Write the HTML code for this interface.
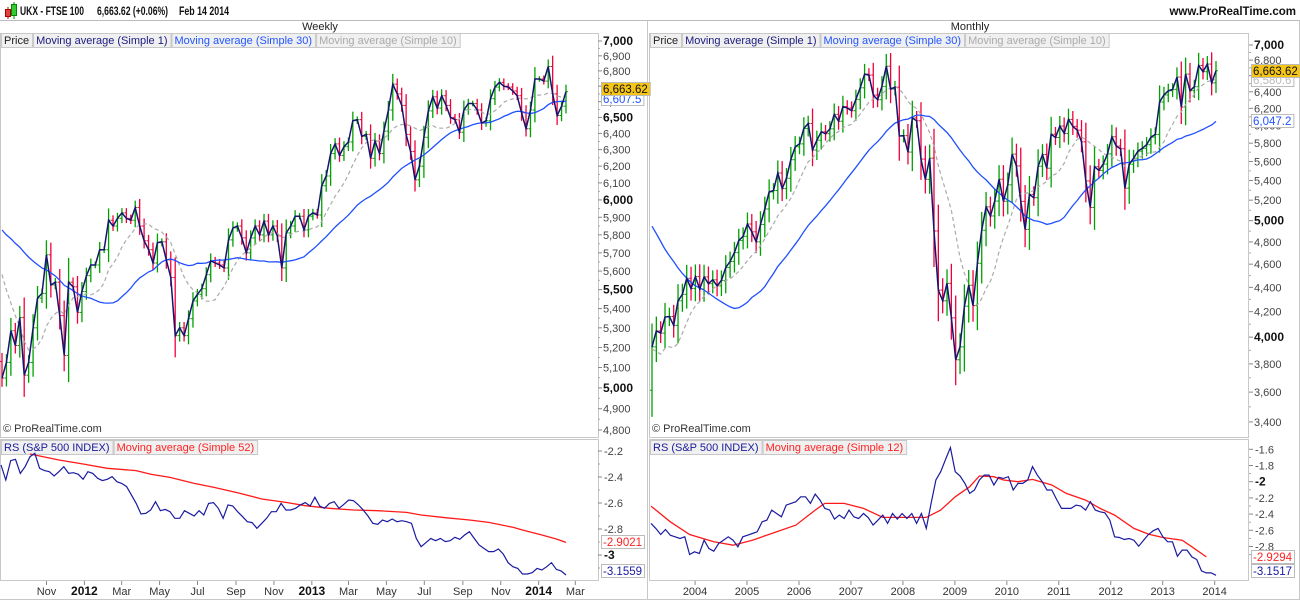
<!DOCTYPE html>
<html><head><meta charset="utf-8"><style>
body{margin:0;background:#fff;width:1300px;height:600px;overflow:hidden;font-family:"Liberation Sans",Arial,sans-serif}
svg{position:absolute;left:0;top:0}
text{font-family:"Liberation Sans",Arial,sans-serif}
</style></head><body>
<svg id="chart" width="1300" height="600" viewBox="0 0 1300 600"></svg>
<script>
// ---------- DATA ----------
const wkPrior=[5950,5920,5990,6000,5930,5900,5960,6020,6050,6010,5980,6060,6040,5990,5940,5940,5870,5880,5770,5810,5950,5990,5860,5900,5820,5570,5250,5290,5130];
const wkClose=[5048,5125,5285,5210,5353,5062,5125,5300,5455,5480,
5689,5525,5540,5363,5160,5540,5515,5380,5490,5575,
5633,5633,5717,5717,5883,5850,5894,5925,5894,5883,
5956,5850,5767,5717,5644,5756,5761,5661,5565,5260,
5300,5260,5347,5440,5475,5505,5580,5656,5644,5633,
5617,5772,5839,5850,5783,5700,5783,5850,5800,5878,
5800,5850,5794,5617,5811,5850,5906,5906,5828,5906,
5925,5913,6083,6141,6276,6335,6265,6318,6347,6479,
6486,6382,6394,6247,6353,6276,6414,6547,6713,6650,
6576,6394,6288,6118,6200,6376,6541,6631,6559,6638,
6576,6500,6486,6407,6547,6588,6588,6547,6464,6479,
6619,6694,6725,6700,6694,6669,6638,6529,6429,6547,
6747,6747,6733,6829,6650,6512,6571,6664];
const moPrior=[6438,6142,6222,6297,5918,5634,5967,5796,5643,5529,5345,4903,5040,5204,5217,5165,5102,5272,5165,5086,4656,4246,4227,3722,4039,4169,3940,3567,3656,3613];
const moClose=[3926,4048,4031,4157,4161,4091,4288,4342,4477,
4390,4492,4386,4489,4431,4464,4413,4459,4571,4624,4703,4814,
4852,4968,4894,4801,4964,5113,5282,5297,5478,5317,5423,5619,
5760,5792,5965,6023,5724,5833,5928,5906,5961,6129,6049,6221,
6203,6172,6308,6449,6621,6608,6360,6303,6467,6722,6433,6457,
5880,5884,5702,6087,6054,5626,5412,5636,4902,4377,4288,4434,
4150,3830,3926,4244,4418,4249,4608,4909,5134,5045,5191,5413,
5189,5355,5680,5553,5188,4917,5258,5225,5549,5675,5528,5900,
5863,5994,5909,6070,5990,5946,5815,5395,5128,5544,5505,5572,
5682,5872,5768,5738,5321,5571,5635,5711,5742,5783,5867,5898,
6276,6361,6412,6430,6583,6215,6621,6413,6462,6731,6651,6749,
6510,6664];
const wkRS=[-2.308,-2.423,-2.274,-2.264,-2.372,-2.321,-2.244,-2.218,-2.333,-2.351,
-2.359,-2.392,-2.359,-2.321,-2.372,-2.367,-2.379,-2.418,-2.359,-2.372,
-2.410,-2.428,-2.418,-2.397,-2.436,-2.449,-2.474,-2.538,-2.603,-2.685,
-2.679,-2.654,-2.590,-2.659,-2.649,-2.667,-2.718,-2.718,-2.659,-2.679,
-2.700,-2.659,-2.692,-2.603,-2.597,-2.641,-2.718,-2.615,-2.623,-2.667,
-2.705,-2.744,-2.751,-2.795,-2.756,-2.718,-2.667,-2.667,-2.603,-2.654,
-2.654,-2.641,-2.615,-2.597,-2.623,-2.556,-2.623,-2.641,-2.603,-2.590,
-2.641,-2.610,-2.577,-2.582,-2.615,-2.654,-2.700,-2.756,-2.764,-2.731,
-2.744,-2.723,-2.744,-2.736,-2.744,-2.756,-2.872,-2.936,-2.905,-2.872,
-2.890,-2.872,-2.897,-2.890,-2.864,-2.879,-2.846,-2.821,-2.872,-2.923,
-2.949,-2.974,-2.974,-2.954,-2.992,-3.059,-3.090,-3.103,-3.146,-3.146,
-3.136,-3.103,-3.115,-3.090,-3.059,-3.110,-3.123,-3.154];
const wkRSAvgIdx=[6,12,17,22,28,31,35,40,44,49,54,59,63,68,73,78,84,87,92,97,101,106,108,112,115,117];
const wkRSAvg=[-2.223,-2.269,-2.300,-2.333,-2.351,-2.379,-2.403,-2.449,-2.479,-2.521,-2.569,-2.595,-2.621,-2.641,-2.654,-2.659,-2.672,-2.692,-2.713,-2.731,-2.749,-2.787,-2.808,-2.846,-2.877,-2.903];
const moRS=[-2.515,-2.577,-2.652,-2.590,-2.660,-2.680,-2.701,-2.680,-2.899,-2.866,
-2.887,-2.722,-2.825,-2.858,-2.763,-2.722,-2.680,-2.722,-2.804,-2.680,
-2.660,-2.639,-2.619,-2.495,-2.474,-2.351,-2.392,-2.433,-2.289,-2.268,
-2.247,-2.186,-2.186,-2.268,-2.153,-2.227,-2.330,-2.351,-2.462,-2.412,
-2.454,-2.351,-2.433,-2.454,-2.392,-2.445,-2.536,-2.474,-2.412,-2.515,
-2.392,-2.462,-2.392,-2.454,-2.392,-2.515,-2.392,-2.577,-2.268,-1.979,
-1.876,-1.724,-1.579,-1.876,-1.930,-2.021,-2.144,-2.103,-1.979,-1.918,
-1.918,-2.041,-1.946,-1.959,-1.938,-2.103,-2.021,-2.021,-1.979,-1.814,
-1.918,-2.000,-2.103,-2.103,-2.219,-2.330,-2.330,-2.330,-2.289,-2.301,
-2.351,-2.247,-2.351,-2.371,-2.384,-2.474,-2.680,-2.689,-2.713,-2.701,
-2.722,-2.796,-2.722,-2.652,-2.606,-2.577,-2.680,-2.742,-2.742,-2.920,
-2.845,-2.845,-2.928,-2.961,-3.101,-3.126,-3.126,-3.155];
const moRSAvgIdx=[0,4,8,13,17,21,25,30,34,36,40,44,48,52,57,60,63,66,68,71,73,76,79,83,86,90,93,96,100,103,106,110,112,115];
const moRSAvg=[-2.301,-2.495,-2.652,-2.742,-2.784,-2.722,-2.639,-2.536,-2.351,-2.268,-2.268,-2.330,-2.441,-2.441,-2.441,-2.351,-2.186,-2.062,-1.930,-1.938,-1.979,-2.000,-1.971,-2.041,-2.144,-2.227,-2.330,-2.412,-2.577,-2.647,-2.689,-2.722,-2.804,-2.928];
const wkPriceTicks=[4800,4900,5000,5100,5200,5300,5400,5500,5600,5700,5800,5900,6000,6100,6200,6300,6400,6500,6600,6700,6800,6900,7000];
const wkBoldTicks=[5000,5500,6000,6500,7000];
const moPriceTicks=[3400,3600,3800,4000,4200,4400,4600,4800,5000,5200,5400,5600,5800,6000,6200,6400,6600,6800,7000];
const moBoldTicks=[4000,5000,7000];
const wkRSTicks=[-2.2,-2.4,-2.6,-2.8,-3];
const moRSTicks=[-1.6,-1.8,-2,-2.2,-2.4,-2.6,-2.8];
const wkDateLabels=["Nov","2012","Mar","May","Jul","Sep","Nov","2013","Mar","May","Jul","Sep","Nov","2014","Mar"];
const wkDateValues=["2011-11-01","2012-01-01","2012-03-01","2012-05-01","2012-07-01","2012-09-01","2012-11-01","2013-01-01","2013-03-01","2013-05-01","2013-07-01","2013-09-01","2013-11-01","2014-01-01","2014-03-01"];
const moYearLabels=["2004","2005","2006","2007","2008","2009","2010","2011","2012","2013","2014"];

// ---------- HELPERS ----------
const NS="http://www.w3.org/2000/svg";
const svg=document.getElementById('chart');
function el(tag,attrs,parent){const e=document.createElementNS(NS,tag);for(const k in attrs)e.setAttribute(k,attrs[k]);(parent||svg).appendChild(e);return e;}
function txt(x,y,s,opts,parent){const t=el('text',Object.assign({x:x,y:y,'font-size':11,fill:'#333'},opts||{}),parent);t.textContent=s;return t;}
function sma(all,n,i){let s=0;for(let k=i-n+1;k<=i;k++)s+=all[k];return s/n;}

// frames
el('line',{x1:0,y1:20.5,x2:1300,y2:20.5,stroke:'#bbb'});
const frames=[[0.5,33.5,598,404],[649.5,33.5,599,404],[0.5,439.5,598,141],[649.5,439.5,599,141]];
frames.forEach(f=>{const r=el('rect',{x:f[0],y:f[1],width:f[2],height:f[3],fill:'none',stroke:'#c8c8c8'});

});
el('line',{x1:0,y1:599.5,x2:1300,y2:599.5,stroke:'#c8c8c8'});
el('line',{x1:647.5,y1:21,x2:647.5,y2:600,stroke:'#c8c8c8'});
el('line',{x1:1299.5,y1:21,x2:1299.5,y2:600,stroke:'#c8c8c8'});

// header
const hdr=el('g',{});


el('line',{x1:8,y1:7,x2:8,y2:19,stroke:'#a00'},hdr);
el('rect',{x:5.5,y:9.5,width:5,height:7,fill:'#e04040',stroke:'#a00'},hdr);
el('line',{x1:14,y1:2,x2:14,y2:19,stroke:'#080'},hdr);
el('rect',{x:11.5,y:4.5,width:5,height:11,fill:'#3c3',stroke:'#080'},hdr);
const h1=txt(20,15,'UKX - FTSE 100',{'font-size':12,'font-weight':'bold',fill:'#111',textLength:64,lengthAdjust:'spacingAndGlyphs'},hdr);
const h2=txt(97,15,'6,663.62 (+0.06%)',{'font-size':12,'font-weight':'bold',fill:'#111',textLength:71,lengthAdjust:'spacingAndGlyphs'},hdr);
const h3=txt(179,15,'Feb 14 2014',{'font-size':12,'font-weight':'bold',fill:'#111',textLength:50,lengthAdjust:'spacingAndGlyphs'},hdr);
const site=txt(1296,15,'www.ProRealTime.com',{'font-size':11.5,'font-weight':'bold',fill:'#111','text-anchor':'end'});


const wt=txt(320,30,'Weekly',{'font-size':11,fill:'#222','text-anchor':'middle'});


const mt=txt(970,30,'Monthly',{'font-size':11,fill:'#222','text-anchor':'middle'});



function legend(x,y,items,name){
  const g=el('g',{});
  
  
  let cx=x;
  items.forEach(it=>{
    const r=el('rect',{x:cx+0.5,y:y+0.5,width:10,height:14,fill:'#f0f0f0',stroke:'#c8c8c8'},g);
    const t=txt(cx+3,y+11,it[0],{'font-size':11,fill:it[1]},g);
    
    
    const w=t.getComputedTextLength()+6;
    r.setAttribute('width',w);cx+=w+1;
  });
}
legend(1,33,[['Price','#222'],['Moving average (Simple 1)','#1a1a80'],['Moving average (Simple 30)','#2255ff'],['Moving average (Simple 10)','#aaa']],'weekly-legend');
legend(650,33,[['Price','#222'],['Moving average (Simple 1)','#1a1a80'],['Moving average (Simple 30)','#2255ff'],['Moving average (Simple 10)','#aaa']],'monthly-legend');
legend(1,440,[['RS (S&P 500 INDEX)','#1a1a9a'],['Moving average (Simple 52)','#f22']],'weekly-rs-legend');
legend(650,440,[['RS (S&P 500 INDEX)','#1a1a9a'],['Moving average (Simple 12)','#f22']],'monthly-rs-legend');
txt(3,432,'© ProRealTime.com',{'font-size':11,fill:'#333'});
txt(652,432,'© ProRealTime.com',{'font-size':11,fill:'#333'});

function valueBox(x,y,s,fill,color,name){
  const g=el('g',{});
  
  
  const r=el('rect',{x:x+0.5,y:y+0.5,width:10,height:13,fill:fill,stroke:'#bbb'},g);
  const t=txt(x+2,y+11,s,{'font-size':11.5,fill:color},g);
  r.setAttribute('width',t.getComputedTextLength()+4);
}

// ---------- PRICE PANE ----------
function pricePane(cfg){
  const all=cfg.prior.concat(cfg.close);const P=cfg.prior.length;const N=cfg.close.length;
  const xs=i=>cfg.x1-(N-1-i)*(cfg.x1-cfg.x0)/(N-1);
  const ys=p=>cfg.yTop+cfg.k*Math.log(7000/p);
  cfg.ticks.forEach(v=>{
    const y=ys(v);const bold=cfg.bold.includes(v);
    el('line',{x1:cfg.ax,y1:y,x2:cfg.ax+4,y2:y,stroke:'#888'});
    const t=txt(cfg.ax+5,y+4,v.toLocaleString('en-US'),bold?{'font-size':12,'font-weight':'bold',fill:'#111'}:{'font-size':11,fill:'#444'});
    
    
  });
  for(let i=0;i<cfg.ticks.length-1;i++){const y=ys((cfg.ticks[i]+cfg.ticks[i+1])/2);el('line',{x1:cfg.ax,y1:y,x2:cfg.ax+2,y2:y,stroke:'#aaa'});}
  const g=el('g',{});
  
  
  for(let i=0;i<N;i++){
    const c=cfg.close[i],o=all[P+i-1];const ext=Math.abs(c-o)*cfg.extK+cfg.ext;
    const hi=Math.max(o,c)+ext,lo=Math.min(o,c)-ext;const col=c>=o?'#00a000':'#f0003c';const x=xs(i);
    const b=el('line',{x1:x,y1:ys(hi),x2:x,y2:ys(lo),stroke:col,'stroke-width':1.3},g);
    
    
    el('line',{x1:x-2,y1:ys(o),x2:x,y2:ys(o),stroke:col},g);
    el('line',{x1:x,y1:ys(c),x2:x+2,y2:ys(c),stroke:col},g);
  }
  function line(n,color,w,dash,name){
    let d='';for(let i=0;i<N;i++){const v=n===1?cfg.close[i]:sma(all,n,P+i);d+=(i?'L':'M')+xs(i).toFixed(1)+' '+ys(v).toFixed(1);}
    const p=el('path',{d:d,fill:'none',stroke:color,'stroke-width':w,'stroke-dasharray':dash||'none'});
    
    
  }
  line(10,'#aaa',1.2,'4,3',cfg.name+'-sma10');
  line(30,'#1e50ff',1.3,null,cfg.name+'-sma30');
  line(1,'#14146e',1.5,null,cfg.name+'-close-line');
}
pricePane({name:'weekly',prior:wkPrior,close:wkClose,x0:2,x1:566,yTop:41,k:1031,ax:598,ticks:wkPriceTicks,bold:wkBoldTicks,ext:18,extK:0.3});
pricePane({name:'monthly',prior:moPrior,close:moClose,x0:652,x1:1216,yTop:45,k:522,ax:1249,ticks:moPriceTicks,bold:moBoldTicks,ext:70,extK:0.35});

valueBox(601,92,'6,607.5','#fff','#2255ff','weekly-sma30-value');
valueBox(601,82,'6,663.62','#f5c518','#111','weekly-price-value');
valueBox(1251,73,'6,580.6','#fff','#bbb','monthly-sma10-value');
valueBox(1251,64,'6,663.62','#f5c518','#111','monthly-price-value');
valueBox(1251,114,'6,047.2','#fff','#2255ff','monthly-sma30-value');

// ---------- RS PANES ----------
function rsPane(cfg){
  const N=cfg.rs.length;
  const xs=i=>cfg.x1-(N-1-i)*(cfg.x1-cfg.x0)/(N-1);
  const ys=v=>cfg.yRef+(cfg.vRef-v)*cfg.k;
  cfg.ticks.forEach(v=>{
    const y=ys(v);const bold=Number.isInteger(v);
    el('line',{x1:cfg.ax,y1:y,x2:cfg.ax+4,y2:y,stroke:'#888'});
    el('line',{x1:cfg.ax,y1:ys(v-0.1),x2:cfg.ax+2,y2:ys(v-0.1),stroke:'#aaa'});
    const t=txt(cfg.ax+6,y+4,String(v),bold?{'font-size':12,'font-weight':'bold',fill:'#111'}:{'font-size':11,fill:'#444'});
    
    
  });
  let d='';cfg.avgIdx.forEach((idx,j)=>{d+=(j?'L':'M')+xs(idx).toFixed(1)+' '+ys(cfg.avg[j]).toFixed(1);});
  const r=el('path',{d:d,fill:'none',stroke:'#ff1a1a','stroke-width':1.3});
  
  
  d='';for(let i=0;i<N;i++)d+=(i?'L':'M')+xs(i).toFixed(1)+' '+ys(cfg.rs[i]).toFixed(1);
  const b=el('path',{d:d,fill:'none',stroke:'#1a1aa0','stroke-width':1.2});
  
  
}
rsPane({name:'weekly',rs:wkRS,avgIdx:wkRSAvgIdx,avg:wkRSAvg,x0:1,x1:566,yRef:451,vRef:-2.2,k:130,ax:598,ticks:wkRSTicks});
rsPane({name:'monthly',rs:moRS,avgIdx:moRSAvgIdx,avg:moRSAvg,x0:651,x1:1216,yRef:449.3,vRef:-1.6,k:81,ax:1249,ticks:moRSTicks});
valueBox(601,535,'-2.9021','#fff','#f22','weekly-rs-avg-value');
valueBox(601,564,'-3.1559','#fff','#1a1aa0','weekly-rs-value');
valueBox(1251,550,'-2.9294','#fff','#f22','monthly-rs-avg-value');
valueBox(1251,564,'-3.1517','#fff','#1a1aa0','monthly-rs-value');

// ---------- TIME AXES ----------
const lastWk=new Date('2014-02-14');
wkDateLabels.forEach((s,i)=>{
  const wb=(lastWk-new Date(wkDateValues[i]))/(7*864e5);
  const x=566-wb*4.35;
  el('line',{x1:x,y1:581,x2:x,y2:585,stroke:'#888'});
  const yr=/^\d{4}$/.test(s);
  const t=txt(x,595,s,yr?{'font-size':12,'font-weight':'bold',fill:'#111','text-anchor':'middle'}:{'font-size':11,fill:'#333','text-anchor':'middle'});
  
  
});
moYearLabels.forEach(s=>{
  const mb=(2014-Number(s))*12+1;
  const x=1216-mb*4.33+3;
  el('line',{x1:x,y1:581,x2:x,y2:585,stroke:'#888'});
  const t=txt(x,595,s,{'font-size':11,fill:'#333','text-anchor':'middle'});
  
  
});
</script>
</body></html>
